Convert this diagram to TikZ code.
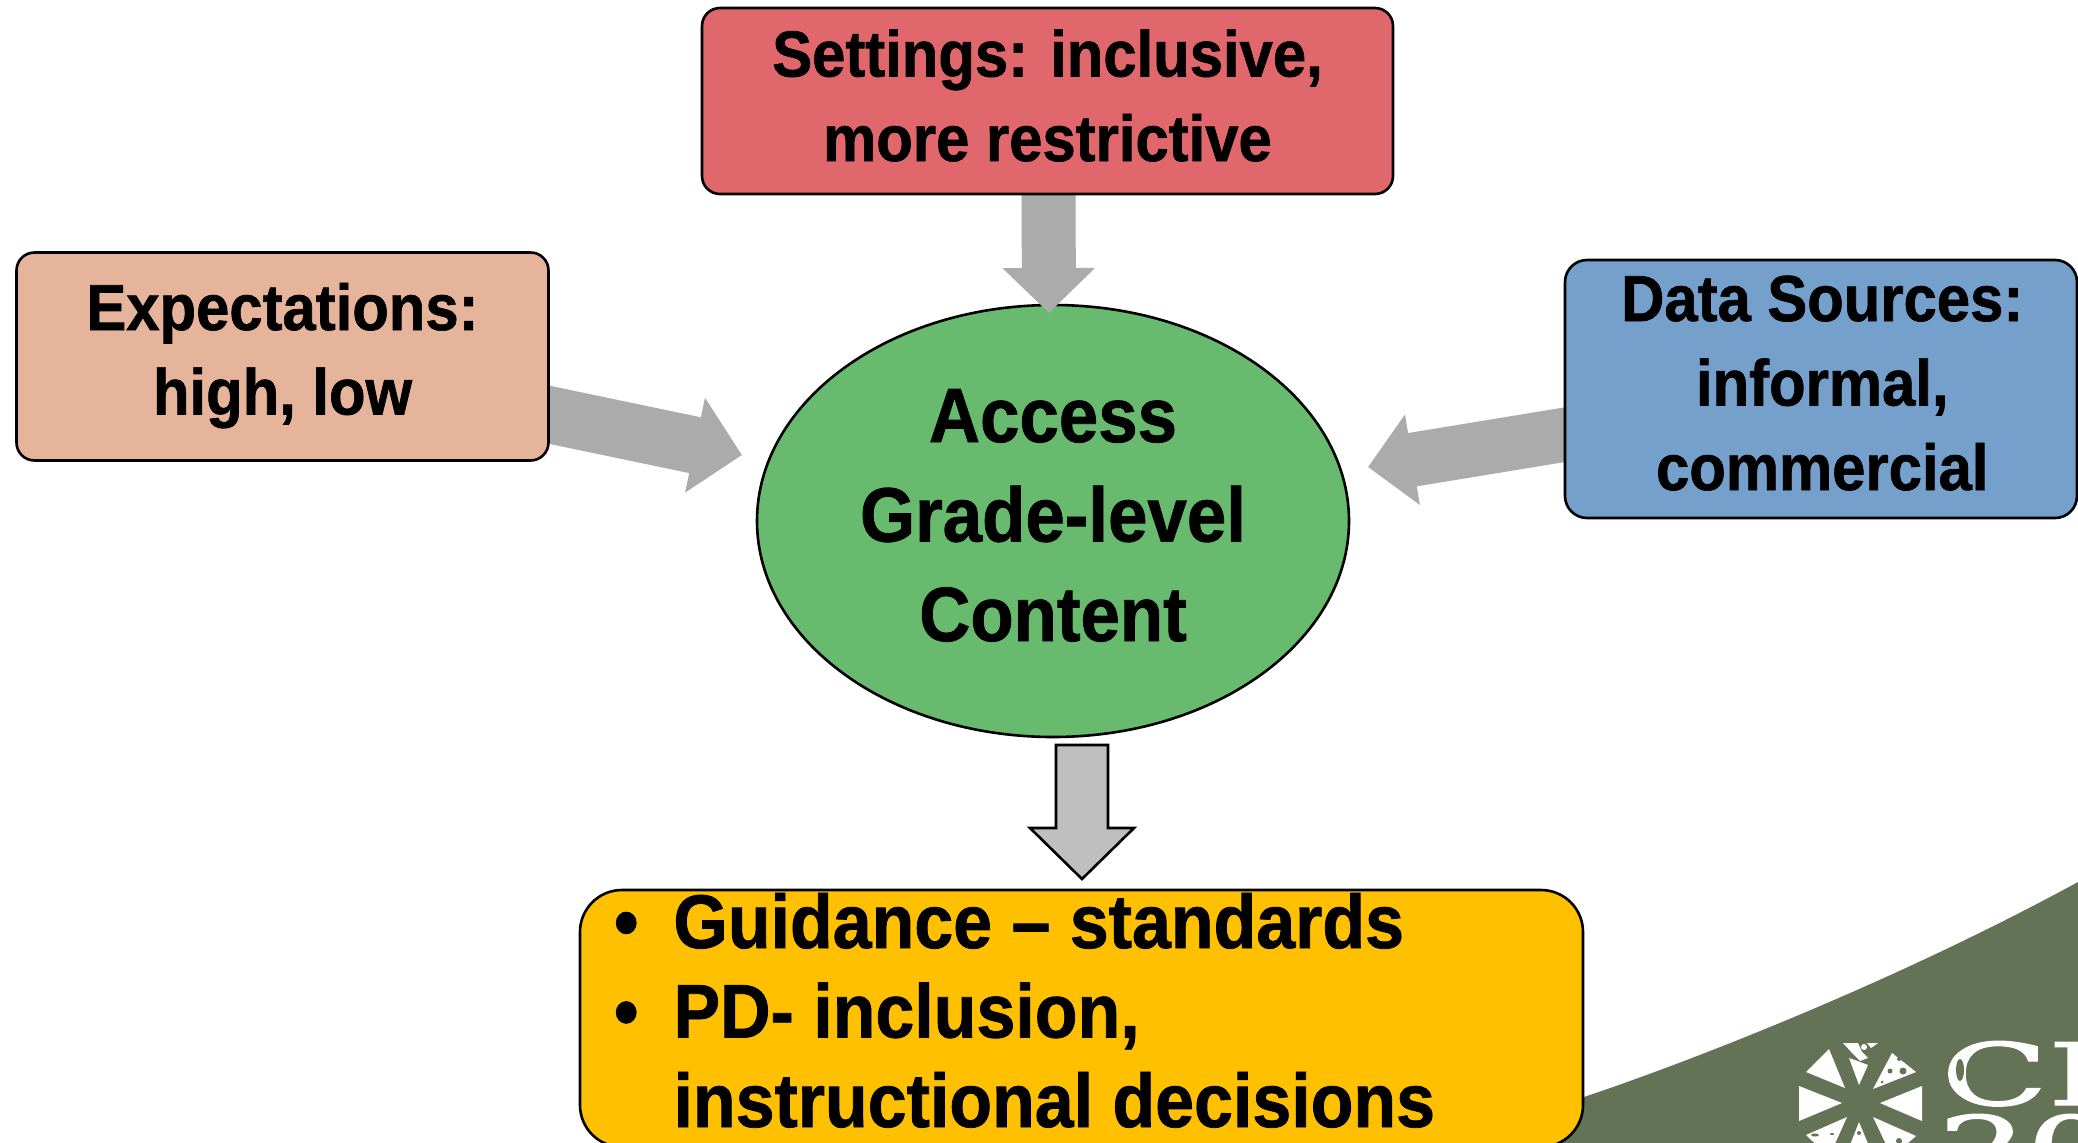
\documentclass[tikz,border=0pt]{standalone}
\usepackage{fontspec}
\setmainfont{Liberation Sans}[UprightFont=* Bold,BoldFont=* Bold,FakeStretch=0.92,FakeBold=1]
\newfontfamily\logofont{DejaVu Serif}[FakeBold=1.5]
\usetikzlibrary{arrows.meta,shapes.geometric,calc}
\definecolor{redbox}{HTML}{E0676B}
\definecolor{peachbox}{HTML}{E6B49B}
\definecolor{bluebox}{HTML}{74A0CB}
\definecolor{greenell}{HTML}{68BB6E}
\definecolor{orangebox}{HTML}{FFC000}
\definecolor{fatgrey}{HTML}{ABABAB}
\definecolor{downgrey}{HTML}{BFBFBF}
\definecolor{olive}{HTML}{647255}
\pgfdeclarelayer{base}
\pgfdeclarelayer{arrowlayer}
\pgfsetlayers{base,arrowlayer,main}
% text placed so that its last baseline lies #1 above the node centre
\newcommand\ctext[3][0]{\makebox[0pt]{\kern#1pt\raisebox{#2pt}[0pt][0pt]{\begin{tabular}[b]{@{}c@{}}#3\end{tabular}}}}
\newcommand\ltext[3]{\makebox[0pt][l]{\kern#1pt\raisebox{#2pt}[0pt][0pt]{\begin{tabular}[b]{@{}l@{}}#3\end{tabular}}}}
\tikzset{
  x=1pt,y=-1pt,
  txtbox/.style={draw=black,line width=2.6pt,rounded corners=#1,inner sep=0pt,outer sep=0pt,font=\fontsize{65}{84.5}\selectfont},
  fat/.style={draw=fatgrey,line width=#1,line cap=butt},
}
\begin{document}
\begin{tikzpicture}
\useasboundingbox (0,0) rectangle (2078,1143);
% logo band
\fill[olive] (1500,1143) -- (1500,1125) -- (1584,1097) .. controls (1700,1058) and (1900,979) .. (2078,882) -- (2078,1143) -- cycle;
\begin{scope}
\clip (1700,1000) rectangle (2078,1143);
\fill[white] (1842,1103) -- (1799,1086) -- (1799,1121) -- cycle;
\fill[white] (1880,1103) -- (1922,1086) -- (1922,1121) -- cycle;
\fill[white] (1845,1088) -- (1806,1072) -- (1829,1049) -- cycle;
\fill[white] (1873,1089) -- (1892,1053) -- (1916,1072) -- cycle;
\fill[white] (1847,1117) -- (1806,1135) -- (1829,1157) -- cycle;
\fill[white] (1873,1117) -- (1916,1136) -- (1892,1157) -- cycle;
\fill[white] (1859,1122) -- (1843,1163) -- (1876,1163) -- cycle;
% distressed top wedge
\fill[white] (1849,1058) -- (1859,1085) -- (1868,1065) -- (1855,1060) -- cycle;
\fill[white] (1843,1043) -- (1858,1043) -- (1862,1052) -- (1868,1058) -- (1860,1061) -- (1853,1054) -- cycle;
\fill[white] (1867,1043) -- (1878,1043) -- (1871,1048) -- cycle;
\fill[white] (1864,1047) circle (3);
% speckles
\fill[olive] (1903,1071) circle (3.5) (1890,1071) circle (2.5) (1899,1059) circle (2) (1882,1082) circle (1.5);
\fill[olive] (1815,1135) ellipse (4 and 1.5) (1832,1134) ellipse (2 and 1) (1899,1141) circle (3) (1859,1133) circle (2);
\end{scope}
\node[text=white,font=\logofont\fontsize{86}{86}\selectfont,xscale=1.62,anchor=base west,inner sep=0pt] (logoa) at (1941,1105) {CI};
\node[text=white,font=\logofont\fontsize{86}{86}\selectfont,xscale=1.62,anchor=base west,inner sep=0pt] (logob) at (1938,1178) {20};
\fill[olive] (1960,1070) ellipse (4 and 11);
% shapes
\begin{pgfonlayer}{base}
\node[draw=black,line width=2.6pt,fill=greenell,ellipse,minimum width=592pt,minimum height=432pt,inner sep=0pt,outer sep=0pt,font=\fontsize{77}{99.5}\selectfont] (access) at (1053,521) {\ctext{-120}{Access\\Grade-level\\Content}};
\end{pgfonlayer}
\node[txtbox=18pt,fill=redbox,minimum width=691pt,minimum height=186pt] (settings) at (1047.5,101) {\ctext{-60}{Settings: inclusive,\\more restrictive}};
\node[txtbox=18pt,fill=peachbox,minimum width=532pt,minimum height=208pt] (expect) at (282.5,356.5) {\ctext{-58}{Expectations:\\high, low}};
\node[txtbox=22pt,fill=bluebox,minimum width=512pt,minimum height=258pt] (data) at (1821,389) {\ctext[2.5]{-101}{Data Sources:\\informal,\\commercial}};
\node[txtbox=42pt,fill=orangebox,minimum width=1003pt,minimum height=257pt,font=\fontsize{76}{89.5}\selectfont] (guide) at (1081.5,1018.5) {\ltext{-408}{-108.5}{\llap{•\kern 35pt}Guidance – standards\\\llap{•\kern 35pt}PD- inclusion,\\instructional decisions}};
% connectors
\begin{pgfonlayer}{arrowlayer}
\coordinate (settingstip) at ($(access.north)+(-4,8)$);
\coordinate (expecttip) at ($(access.west)+(-15,-66)$);
\coordinate (datatip) at ($(access.east)+(19,-54)$);
\draw[fat=54pt,-{Triangle[length=45pt,width=90pt]}] ($(settings.south)+(1,-6)$) -- (settingstip);
\draw[fat=57pt,-{Triangle[length=48pt,width=94pt]}] ($(expect.east)+(-10,56)$) -- (expecttip);
\draw[fat=54pt,-{Triangle[length=45pt,width=89pt]}] ($(data.west)+(10,44)$) -- (datatip);
\end{pgfonlayer}
\draw[line width=2.6pt,fill=downgrey,line join=miter]
  ($(access.south)+(3,8)$) -- ++(0,83) -- ++(-26,0) -- ++(52,51) -- ++(52,-51) -- ++(-26,0) -- ++(0,-83) -- cycle;
\end{tikzpicture}
\end{document}
